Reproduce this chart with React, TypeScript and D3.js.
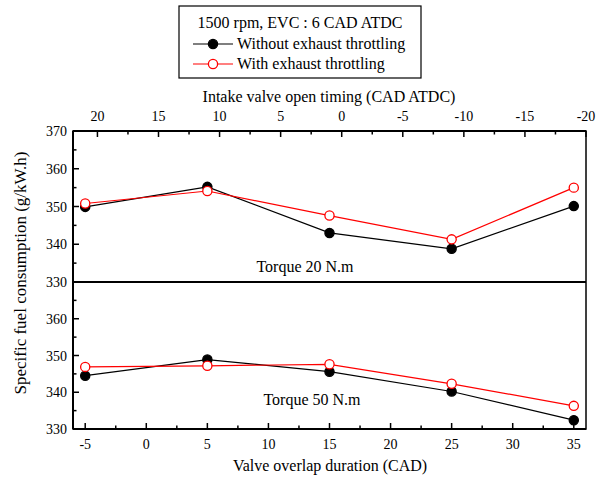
import React, { useRef, useEffect } from "react";
import * as d3 from "d3";

const overlap = [-5, 5, 15, 25, 35];
const t20Without = [349.9, 355.2, 343.0, 338.8, 350.1];
const t20With = [350.8, 354.1, 347.6, 341.3, 355.0];
const t50Without = [344.5, 348.9, 345.6, 340.2, 332.4];
const t50With = [346.9, 347.2, 347.6, 342.3, 336.3];
const bottomTicks = [-5, 0, 5, 10, 15, 20, 25, 30, 35];
const topTicks = [20, 15, 10, 5, 0, -5, -10, -15, -20];
const topPanelTicks = [370, 360, 350, 340, 330];
const lowPanelTicks = [360, 350, 340, 330];

const W = 604;
const H = 481;
const FONT = "'Liberation Serif', 'Times New Roman', serif";

const App = () => {
  const ref = useRef<SVGSVGElement>(null);

  useEffect(() => {
    const svg = d3.select(ref.current);
    svg.selectAll("*").remove();

    const left = 73, right = 586, top = 131, mid = 282, bottom = 429;
    const x = d3.scaleLinear().domain([-6, 36]).range([left, right]);
    const xTop = d3.scaleLinear().domain([22, -20]).range([left, right]);
    const yUp = d3.scaleLinear().domain([330, 370]).range([mid, top]);
    const yLow = d3.scaleLinear().domain([330, 370]).range([bottom, mid]);

    const g = svg.append("g").style("font-family", FONT).attr("fill", "#000");

    // frame
    g.append("rect")
      .attr("x", left).attr("y", top)
      .attr("width", right - left).attr("height", bottom - top)
      .attr("fill", "none").attr("stroke", "#000").attr("stroke-width", 1.5);
    g.append("line")
      .attr("x1", left).attr("x2", right).attr("y1", mid).attr("y2", mid)
      .attr("stroke", "#000").attr("stroke-width", 2);
    g.append("line")
      .attr("x1", left).attr("x2", left).attr("y1", top).attr("y2", bottom)
      .attr("stroke", "#000").attr("stroke-width", 2);
    g.append("line")
      .attr("x1", left).attr("x2", right).attr("y1", bottom).attr("y2", bottom)
      .attr("stroke", "#000").attr("stroke-width", 2);
    g.append("line")
      .attr("x1", left).attr("x2", right).attr("y1", top).attr("y2", top)
      .attr("stroke", "#000").attr("stroke-width", 2);

    // bottom axis ticks (inward)
    bottomTicks.forEach(v => {
      g.append("line").attr("x1", x(v)).attr("x2", x(v))
        .attr("y1", bottom).attr("y2", bottom - 6)
        .attr("stroke", "#000").attr("stroke-width", 1.5);
      g.append("text").attr("x", x(v)).attr("y", bottom + 20)
        .attr("text-anchor", "middle").attr("font-size", 14).text(v);
      const m = v + 2.5;
      if (m < 36) {
        g.append("line").attr("x1", x(m)).attr("x2", x(m))
          .attr("y1", bottom).attr("y2", bottom - 3.5)
          .attr("stroke", "#000").attr("stroke-width", 1.5);
      }
    });

    // top axis ticks (inward)
    topTicks.forEach(v => {
      g.append("line").attr("x1", xTop(v)).attr("x2", xTop(v))
        .attr("y1", top).attr("y2", top + 6)
        .attr("stroke", "#000").attr("stroke-width", 1.5);
      g.append("text").attr("x", xTop(v)).attr("y", top - 10)
        .attr("text-anchor", "middle").attr("font-size", 14).text(v);
      const m = v - 2.5;
      if (m > -20) {
        g.append("line").attr("x1", xTop(m)).attr("x2", xTop(m))
          .attr("y1", top).attr("y2", top + 3.5)
          .attr("stroke", "#000").attr("stroke-width", 1.5);
      }
    });

    // left axis ticks
    const yTicks = (y: d3.ScaleLinear<number, number>, labels: number[]) => {
      labels.forEach(v => {
        g.append("line").attr("x1", left).attr("x2", left + 6)
          .attr("y1", y(v)).attr("y2", y(v))
          .attr("stroke", "#000").attr("stroke-width", 1.5);
        g.append("text").attr("x", left - 6).attr("y", y(v) + 5)
          .attr("text-anchor", "end").attr("font-size", 14).text(v);
        g.append("line").attr("x1", left).attr("x2", left + 3.5)
          .attr("y1", y(v + 5)).attr("y2", y(v + 5))
          .attr("stroke", "#000").attr("stroke-width", 1.5);
      });
    };
    yTicks(yUp, topPanelTicks.slice(1));
    yTicks(yLow, lowPanelTicks);
    g.append("text").attr("x", left - 6).attr("y", yUp(370) + 5)
      .attr("text-anchor", "end").attr("font-size", 14).text(370);

    // series
    const series = [
      { y: yUp, vals: t20Without, color: "#000", fill: "#000" },
      { y: yUp, vals: t20With, color: "#ff0000", fill: "#fff" },
      { y: yLow, vals: t50Without, color: "#000", fill: "#000" },
      { y: yLow, vals: t50With, color: "#ff0000", fill: "#fff" },
    ];
    series.forEach(s => {
      const line = d3.line<number>().x((d, i) => x(overlap[i])).y(d => s.y(d));
      g.append("path").attr("d", line(s.vals)).attr("fill", "none")
        .attr("stroke", s.color).attr("stroke-width", 1.2);
      g.selectAll(null).data(s.vals).enter().append("circle")
        .attr("cx", (d, i) => x(overlap[i])).attr("cy", d => s.y(d))
        .attr("r", 4.6).attr("fill", s.fill)
        .attr("stroke", s.color).attr("stroke-width", 1.3);
    });

    // panel labels
    g.append("text").attr("x", 305).attr("y", 272).attr("text-anchor", "middle")
      .attr("font-size", 16).text("Torque 20 N.m");
    g.append("text").attr("x", 312).attr("y", 405).attr("text-anchor", "middle")
      .attr("font-size", 16).text("Torque 50 N.m");

    // axis titles
    g.append("text").attr("x", 330).attr("y", 471).attr("text-anchor", "middle")
      .attr("font-size", 16).text("Valve overlap duration (CAD)");
    g.append("text").attr("x", 329).attr("y", 102).attr("text-anchor", "middle")
      .attr("font-size", 16).text("Intake valve open timing (CAD ATDC)");
    g.append("text").attr("transform", "translate(26,273) rotate(-90)")
      .attr("text-anchor", "middle").attr("font-size", 17)
      .text("Specific fuel consumption (g/kW.h)");

    // legend
    const lg = g.append("g");
    lg.append("rect").attr("x", 179).attr("y", 6).attr("width", 242).attr("height", 72)
      .attr("fill", "#fff").attr("stroke", "#000").attr("stroke-width", 1.2);
    lg.append("text").attr("x", 300).attr("y", 28).attr("text-anchor", "middle")
      .attr("font-size", 16).text("1500 rpm, EVC : 6 CAD ATDC");
    const items = [
      { label: "Without exhaust throttling", color: "#000", fill: "#000" },
      { label: "With exhaust throttling", color: "#ff0000", fill: "#fff" },
    ];
    items.forEach((it, i) => {
      const yy = 44 + i * 20;
      lg.append("line").attr("x1", 193).attr("x2", 233).attr("y1", yy).attr("y2", yy)
        .attr("stroke", it.color).attr("stroke-width", 1.2);
      lg.append("circle").attr("cx", 213).attr("cy", yy).attr("r", 4.6)
        .attr("fill", it.fill).attr("stroke", it.color).attr("stroke-width", 1.3);
      lg.append("text").attr("x", 237).attr("y", yy + 5).attr("font-size", 16).text(it.label);
    });
  }, []);

  return (
    <svg ref={ref} width={W} height={H}
      style={{ position: "absolute", left: 0, top: 0, background: "#fff" }} />
  );
};

export default App;
